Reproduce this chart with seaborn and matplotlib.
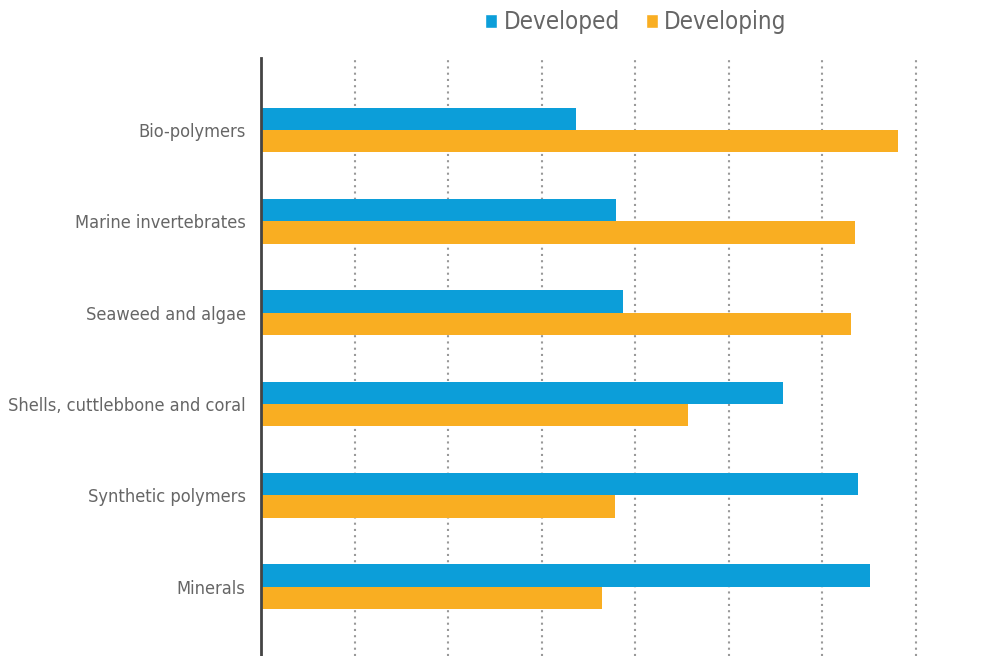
import pandas as pd
import matplotlib.pyplot as plt
import seaborn as sns
from matplotlib.patches import Patch
from matplotlib import font_manager

categories = ['Bio-polymers', 'Marine invertebrates', 'Seaweed and algae',
              'Shells, cuttlebbone and coral', 'Synthetic polymers', 'Minerals']
developed = [33.7, 38.0, 38.7, 55.8, 63.8, 65.1]
developing = [68.1, 63.5, 63.1, 45.7, 37.8, 36.5]
groups = ['Developed', 'Developing']
colors = ['#0C9ED9', '#F9AE22']

df = pd.DataFrame({
    'category': categories * 2,
    'group': [groups[0]] * len(categories) + [groups[1]] * len(categories),
    'value': developed + developing,
})

sns.set_style('white')

# pick a narrow font if one is around
names = {f.name for f in font_manager.fontManager.ttflist}
stretches = {(f.name, f.stretch) for f in font_manager.fontManager.ttflist}
if 'Liberation Sans Narrow' in names:
    plt.rcParams['font.family'] = ['Liberation Sans Narrow', 'DejaVu Sans']
elif ('DejaVu Sans', 'condensed') in stretches or ('DejaVu Sans', 'semi-condensed') in stretches:
    plt.rcParams['font.family'] = ['DejaVu Sans']
    plt.rcParams['font.stretch'] = 'condensed'
else:
    plt.rcParams['font.family'] = ['Roboto', 'DejaVu Sans']

fig = plt.figure(figsize=(10, 6.56), dpi=100)
ax = fig.add_axes([0.261, 0.0, 0.739, 0.9116])

sns.barplot(data=df, x='value', y='category', hue='group', orient='h',
            palette=colors, width=0.49, saturation=1, linewidth=0,
            ax=ax, legend=False)

ax.set_xlim(0, 79)
ax.set_ylim(5.76, -0.79)
ax.set_xticks(range(10, 80, 10))
ax.set_xticklabels([])
ax.tick_params(axis='x', length=0)
ax.tick_params(axis='y', length=0, labelsize=15, labelcolor='#666666', pad=11)
ax.xaxis.grid(True, linestyle=(0, (1, 2)), color='#999999', linewidth=1.5)
ax.set_axisbelow(True)
ax.set_xlabel('')
ax.set_ylabel('')
for s in ['top', 'right', 'bottom']:
    ax.spines[s].set_visible(False)
ax.spines['left'].set_color('#444444')
ax.spines['left'].set_linewidth(2)

# scale label size so the longest label matches the reference width
fig.canvas.draw()
r = fig.canvas.get_renderer()
longest = max(ax.get_yticklabels(), key=lambda t: t.get_window_extent(r).width)
w = longest.get_window_extent(r).width
lab_size = 15 * 238 / w
ax.tick_params(axis='y', labelsize=lab_size)

probe = fig.text(0, 0, 'Developed', fontsize=20)
leg_size = 20 * 116 / probe.get_window_extent(r).width
probe.remove()

handles = [Patch(facecolor=c, label=g) for c, g in zip(colors, groups)]
fig.legend(handles=handles, loc='center', bbox_to_anchor=(0.636, 0.966), ncol=2,
           frameon=False, fontsize=leg_size, labelcolor='#666666',
           handlelength=0.5, handleheight=0.5, handletextpad=0.25,
           columnspacing=1.1)

fig.savefig('out.png', dpi=100)
